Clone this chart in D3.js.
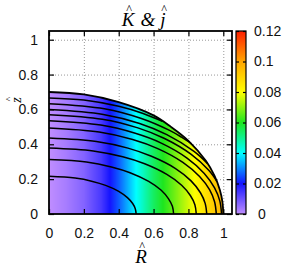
<!DOCTYPE html>
<html>
<head>
<meta charset="utf-8">
<script src="https://cdn.jsdelivr.net/npm/d3@7"></script>
<style>
body { margin: 0; background: #fff; }
</style>
</head>
<body>
<div id="chart-area"></div>
<script>
// j along R (colour field, nearly independent of z)
var rVals = [0, 0.1, 0.2, 0.3, 0.4, 0.5, 0.6, 0.7, 0.8, 0.9, 1.0];
var jVals = [0, 0.003, 0.007, 0.014, 0.026, 0.04, 0.054, 0.065, 0.076, 0.087, 0.097];

// surface of the body
var surfR = [0, 0.2, 0.4, 0.6, 0.7, 0.8, 0.9, 0.95, 0.98, 0.995, 1.0];
var surfZ = [0.70, 0.686, 0.642, 0.566, 0.50, 0.42, 0.305, 0.219, 0.139, 0.07, 0];

// K contours as [R, z] points
var contours = [
  [[0,0.216],[0.15,0.206],[0.25,0.187],[0.325,0.164],[0.4,0.130],[0.45,0.094],[0.48,0.060],[0.495,0.030],[0.5,0]],
  [[0,0.312],[0.215,0.298],[0.358,0.270],[0.465,0.237],[0.572,0.187],[0.644,0.136],[0.686,0.087],[0.708,0.044],[0.715,0]],
  [[0,0.379],[0.254,0.362],[0.423,0.328],[0.549,0.288],[0.676,0.227],[0.761,0.165],[0.811,0.106],[0.837,0.053],[0.845,0]],
  [[0,0.436],[0.272,0.416],[0.453,0.378],[0.588,0.331],[0.724,0.262],[0.815,0.190],[0.869,0.122],[0.896,0.061],[0.905,0]],
  [[0,0.493],[0.288,0.470],[0.48,0.427],[0.624,0.375],[0.768,0.296],[0.864,0.215],[0.922,0.138],[0.95,0.070],[0.96,0]],
  [[0,0.535],[0.297,0.510],[0.495,0.463],[0.644,0.407],[0.792,0.321],[0.891,0.233],[0.95,0.150],[0.98,0.075],[0.99,0]],
  [[0,0.570],[0.306,0.544],[0.51,0.494],[0.663,0.433],[0.816,0.342],[0.918,0.249],[0.964,0.186]],
  [[0,0.599],[0.312,0.571],[0.52,0.519],[0.676,0.455],[0.832,0.359],[0.91,0.289]],
  [[0,0.633],[0.318,0.604],[0.53,0.548],[0.689,0.481],[0.76,0.441],[0.818,0.403]],
  [[0,0.666],[0.2,0.654],[0.4,0.618],[0.54,0.577],[0.65,0.532]]
];

var xTicks = [0, 0.2, 0.4, 0.6, 0.8, 1];
var yTicks = [0, 0.2, 0.4, 0.6, 0.8, 1];
var gridTicks = [0.2, 0.4, 0.6, 0.8, 1];
var cbTicks = [0, 0.02, 0.04, 0.06, 0.08, 0.1, 0.12];
var cbColors = ["#c08eff", "#1414ff", "#00ffff", "#1ee61e", "#ffff00", "#ffa500", "#ff1e00"];

var margin = {left: 49, top: 31};
var width = 183, height = 183;

var svg = d3.select("#chart-area").append("svg")
    .attr("width", 294)
    .attr("height", 271);

var g = svg.append("g")
    .attr("transform", "translate(" + margin.left + "," + margin.top + ")");

var x = d3.scaleLinear().domain([0, 1.05]).range([0, width]);
var y = d3.scaleLinear().domain([0, 1.05]).range([height, 0]);
var jScale = d3.scaleLinear().domain(rVals).range(jVals).clamp(true);
var color = d3.scaleLinear().domain(cbTicks).range(cbColors);

// grid
g.append("g")
    .attr("transform", "translate(0," + height + ")")
    .call(d3.axisBottom(x).tickValues(gridTicks).tickSize(-height).tickFormat(""))
    .call(a => a.select(".domain").remove());
g.append("g")
    .call(d3.axisLeft(y).tickValues(gridTicks).tickSize(-width).tickFormat(""))
    .call(a => a.select(".domain").remove());
g.selectAll(".tick line")
    .attr("stroke", "#999")
    .attr("stroke-dasharray", "1,2");

// clip to the surface
var line = d3.line()
    .x(d => x(d[0]))
    .y(d => y(d[1]))
    .curve(d3.curveCatmullRom.alpha(0.5));

var surf = surfR.map((r, i) => [r, surfZ[i]]);

svg.append("defs").append("clipPath").attr("id", "body")
  .append("path")
    .attr("d", line(surf) + "L" + x(0) + "," + y(0) + "Z");

// colour field, one column per pixel
var cols = d3.range(0, Math.ceil(x(1)) + 1);
g.append("g").attr("clip-path", "url(#body)")
  .selectAll("rect")
  .data(cols)
  .enter()
  .append("rect")
    .attr("x", d => d)
    .attr("y", 0)
    .attr("width", 1.2)
    .attr("height", height)
    .attr("fill", d => color(jScale(x.invert(d + 0.5))));

// contours
g.selectAll(".contour")
  .data(contours)
  .enter()
  .append("path")
    .attr("class", "contour")
    .attr("d", line)
    .attr("fill", "none")
    .attr("stroke", "black")
    .attr("stroke-width", 1.5);

g.append("path")
    .attr("d", line(surf))
    .attr("fill", "none")
    .attr("stroke", "black")
    .attr("stroke-width", 1.8);

// axes (ticks inward on all sides)
function clean(a) {
  a.select(".domain").remove();
  a.selectAll(".tick line").attr("stroke", "black").attr("stroke-width", 1.2);
  a.selectAll("text")
    .attr("font-family", "'Liberation Sans', Arial, sans-serif")
    .attr("font-size", "14px")
    .attr("fill", "#111");
}

g.append("g")
    .attr("transform", "translate(0," + height + ")")
    .call(d3.axisBottom(x).tickValues(xTicks).tickSize(-5).tickPadding(14).tickFormat(d3.format("~g")))
    .call(clean);
g.append("g")
    .call(d3.axisTop(x).tickValues(xTicks).tickSize(-5).tickFormat(""))
    .call(clean);
g.append("g")
    .call(d3.axisLeft(y).tickValues(yTicks).tickSize(-5).tickPadding(11).tickFormat(d3.format("~g")))
    .call(clean);
g.append("g")
    .attr("transform", "translate(" + width + ",0)")
    .call(d3.axisRight(y).tickValues(yTicks).tickSize(-5).tickFormat(""))
    .call(clean);

g.append("rect")
    .attr("width", width)
    .attr("height", height)
    .attr("fill", "none")
    .attr("stroke", "black")
    .attr("stroke-width", 1.8);

// colour box
var cbX = 236, cbW = 10;
var cb = d3.scaleLinear().domain([0, 0.12]).range([margin.top + height, margin.top]);

var grad = svg.select("defs").append("linearGradient")
    .attr("id", "cbgrad")
    .attr("x1", 0).attr("y1", 1).attr("x2", 0).attr("y2", 0);
grad.selectAll("stop")
  .data(cbTicks)
  .enter()
  .append("stop")
    .attr("offset", d => d / 0.12)
    .attr("stop-color", d => color(d));

svg.append("rect")
    .attr("x", cbX)
    .attr("y", margin.top)
    .attr("width", cbW)
    .attr("height", height)
    .attr("fill", "url(#cbgrad)")
    .attr("stroke", "black")
    .attr("stroke-width", 1.2);

svg.append("g")
    .attr("transform", "translate(" + (cbX + cbW) + ",0)")
    .call(d3.axisRight(cb).tickValues(cbTicks).tickSize(-3).tickPadding(8).tickFormat(d3.format("~g")))
    .call(clean)
    .selectAll("text")
    .attr("dx", d => d === 0 ? 4 : 0);
svg.append("g")
    .attr("transform", "translate(" + cbX + ",0)")
    .call(d3.axisLeft(cb).tickValues(cbTicks).tickSize(-3).tickFormat(""))
    .call(clean);

// titles: italic letter with a hat, kept in one text element
var serif = "'Liberation Serif', 'Times New Roman', serif";
function hatted(parent, letter, cx, cy, size) {
  var t = parent.append("text")
    .attr("y", cy)
    .attr("font-family", serif)
    .attr("font-size", size + "px");
  var l = t.append("tspan").attr("font-style", "italic").text(letter);
  var h = t.append("tspan").attr("font-size", (size * 0.65) + "px").text("^");
  var lw = l.node().getComputedTextLength();
  var hw = h.node().getComputedTextLength();
  t.attr("x", cx - lw / 2);
  h.attr("dx", -lw / 2 - hw / 2 + size * 0.06).attr("dy", -size * 0.66);
}

hatted(svg, "K", 128, 26, 19);
svg.append("text")
    .attr("x", 148).attr("y", 26)
    .attr("text-anchor", "middle")
    .attr("font-family", serif)
    .attr("font-style", "italic")
    .attr("font-size", "19px")
    .text("&");
hatted(svg, "j", 163, 26, 19);

hatted(svg, "R", 141, 263, 19);

var zl = svg.append("g").attr("transform", "translate(21,100) rotate(-90)");
hatted(zl, "z", 0, 0, 14);
</script>
</body>
</html>
